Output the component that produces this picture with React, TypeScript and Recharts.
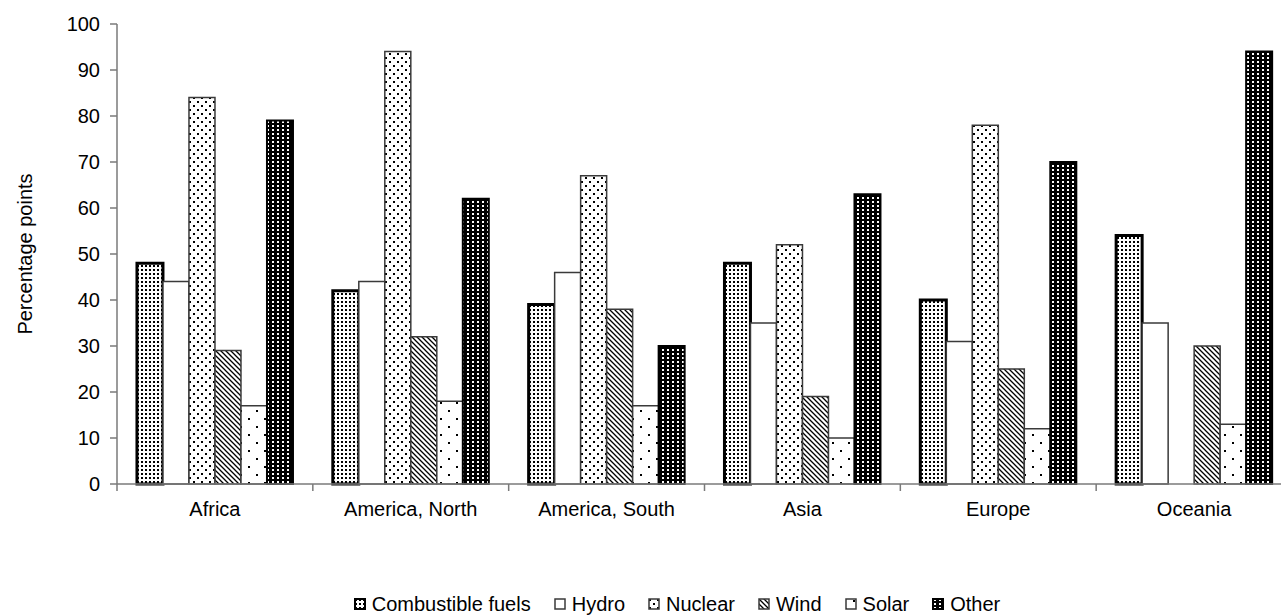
import React from 'react';
import { BarChart, Bar, XAxis, YAxis, Legend } from 'recharts';

const regions = ['Africa', 'America, North', 'America, South', 'Asia', 'Europe', 'Oceania'];
const seriesNames = ['Combustible fuels', 'Hydro', 'Nuclear', 'Wind', 'Solar', 'Other'];
const combustible = [48, 42, 39, 48, 40, 54];
const hydro = [44, 44, 46, 35, 31, 35];
const nuclear = [84, 94, 67, 52, 78, 0];
const wind = [29, 32, 38, 19, 25, 30];
const solar = [17, 18, 17, 10, 12, 13];
const other = [79, 62, 30, 63, 70, 94];
const yTicks = [0, 10, 20, 30, 40, 50, 60, 70, 80, 90, 100];

const seriesValues = [combustible, hydro, nuclear, wind, solar, other];

const data = regions.map((region, i) => {
  const row: Record<string, string | number> = { region };
  seriesNames.forEach((name, s) => {
    row[name] = seriesValues[s][i];
  });
  return row;
});

const FONT = '"Liberation Sans", Arial, sans-serif';
const AXIS = '#7a7a7a';

// look of each series, same order as seriesNames
const looks = [
  { fill: 'url(#pComb)', stroke: '#000', width: 3 },
  { fill: '#fff', stroke: '#3a3a3a', width: 1.5 },
  { fill: 'url(#pNuc)', stroke: '#3a3a3a', width: 1.5 },
  { fill: 'url(#pWind)', stroke: '#3a3a3a', width: 1.5 },
  { fill: 'url(#pSolar)', stroke: '#3a3a3a', width: 1.5 },
  { fill: 'url(#pOther)', stroke: '#000', width: 2 },
];

const TICK_SIZE = 6;
const TICK_MARGIN = 12;

const CategoryTick = (props: any) => {
  const { x, y, payload, index, visibleTicksCount } = props;
  const half = payload.offset || 98;
  const axisY = y - TICK_SIZE - TICK_MARGIN;
  const last = index === visibleTicksCount - 1;
  return (
    <g>
      <line x1={x - half} x2={x - half} y1={axisY} y2={axisY + 7} stroke={AXIS} strokeWidth={1.5} />
      {last && <line x1={x + half} x2={x + half} y1={axisY} y2={axisY + 7} stroke={AXIS} strokeWidth={1.5} />}
      <text x={x} y={axisY + 25} textAnchor="middle" dominantBaseline="central" fontSize={20} fontFamily={FONT} fill="#000">
        {payload.value}
      </text>
    </g>
  );
};

const LegendBox = () => (
  <div
    style={{
      display: 'flex',
      justifyContent: 'center',
      paddingLeft: 62,
      paddingTop: 8,
      fontSize: 20,
      lineHeight: '22px',
      fontFamily: FONT,
      color: '#000',
    }}
  >
    {seriesNames.map((name, i) => (
      <div key={name} style={{ display: 'flex', alignItems: 'center', marginRight: i < seriesNames.length - 1 ? 23 : 0 }}>
        <svg width={12} height={12} style={{ marginRight: 6 }}>
          <rect
            x={1}
            y={1}
            width={10}
            height={10}
            fill={looks[i].fill}
            stroke={looks[i].stroke}
            strokeWidth={Math.min(looks[i].width, 2)}
          />
        </svg>
        <span>{name}</span>
      </div>
    ))}
  </div>
);

export default function App() {
  return (
    <div style={{ position: 'absolute', left: 0, top: 0, width: 1281, height: 615, overflow: 'hidden', background: '#fff' }}>
      <BarChart
        width={1300}
        height={615}
        data={data}
        margin={{ top: 24, right: 8, left: 0, bottom: 0 }}
        barCategoryGap="10.2%"
        barGap={0}
      >
        <defs>
          <pattern id="pComb" width={4} height={4} patternUnits="userSpaceOnUse">
            <rect width={4} height={4} fill="#fff" />
            <rect x={1} y={1} width={2} height={2} fill="#000" />
          </pattern>
          <pattern id="pNuc" width={8} height={8} patternUnits="userSpaceOnUse">
            <rect width={8} height={8} fill="#fff" />
            <rect x={1} y={1} width={2} height={2} fill="#000" />
            <rect x={5} y={5} width={2} height={2} fill="#000" />
          </pattern>
          <pattern id="pWind" width={5} height={5} patternUnits="userSpaceOnUse">
            <rect width={5} height={5} fill="#fff" />
            <path d="M-1,-1 L6,6 M-1,4 L1,6 M4,-1 L6,1" stroke="#000" strokeWidth={1.3} />
          </pattern>
          <pattern id="pSolar" width={16} height={16} patternUnits="userSpaceOnUse">
            <rect width={16} height={16} fill="#fff" />
            <rect x={8} y={2} width={2} height={2} fill="#000" />
            <rect x={0} y={10} width={2} height={2} fill="#000" />
          </pattern>
          <pattern id="pOther" width={5} height={4} patternUnits="userSpaceOnUse">
            <rect width={5} height={4} fill="#000" />
            <rect x={2} y={1} width={2} height={2} fill="#fff" />
          </pattern>
        </defs>
        <XAxis
          dataKey="region"
          interval={0}
          height={101}
          tickLine={false}
          tickSize={TICK_SIZE}
          tickMargin={TICK_MARGIN}
          axisLine={{ stroke: AXIS, strokeWidth: 1.5 }}
          tick={<CategoryTick />}
        />
        <YAxis
          width={117}
          domain={[0, 100]}
          ticks={yTicks}
          interval={0}
          tickSize={7}
          tickMargin={10}
          axisLine={{ stroke: AXIS, strokeWidth: 1.5 }}
          tickLine={{ stroke: AXIS, strokeWidth: 1.5 }}
          tick={{ fontSize: 20, fontFamily: FONT, fill: '#000' }}
          label={{
            value: 'Percentage points',
            angle: -90,
            position: 'insideLeft',
            offset: 25,
            style: { textAnchor: 'middle', fontSize: 20, fontFamily: FONT, fill: '#000' },
          }}
        />
        <Legend verticalAlign="bottom" wrapperStyle={{ height: 30 }} content={<LegendBox />} />
        {seriesNames.map((name, i) => (
          <Bar
            key={name}
            dataKey={name}
            fill={looks[i].fill}
            stroke={looks[i].stroke}
            strokeWidth={looks[i].width}
            isAnimationActive={false}
          />
        ))}
      </BarChart>
    </div>
  );
}
